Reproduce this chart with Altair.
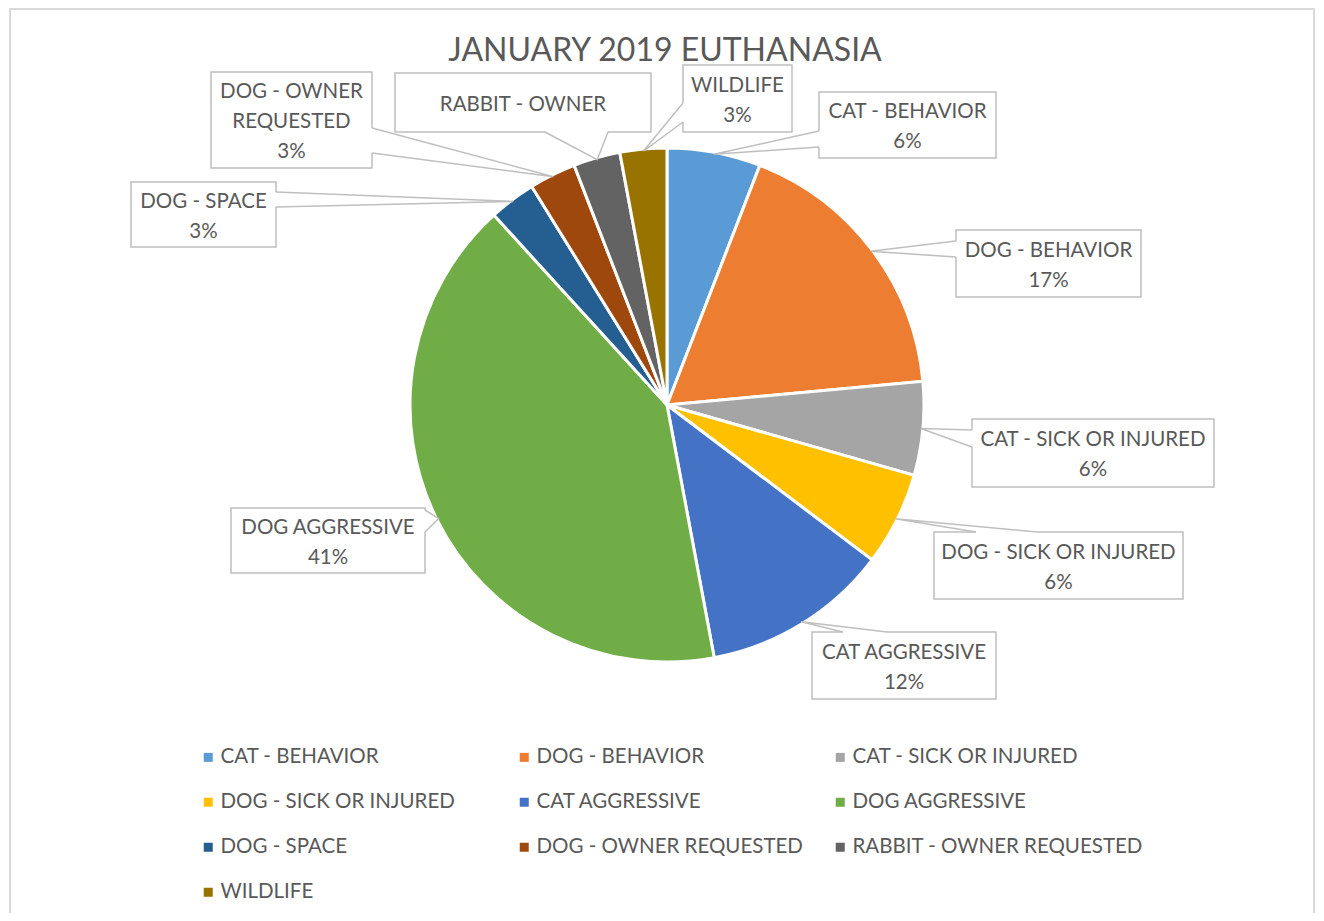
import math
import altair as alt
import pandas as pd

# ---------------- data ----------------
categories = [
    "CAT - BEHAVIOR", "DOG - BEHAVIOR", "CAT - SICK OR INJURED",
    "DOG - SICK OR INJURED", "CAT AGGRESSIVE", "DOG AGGRESSIVE",
    "DOG - SPACE", "DOG - OWNER REQUESTED", "RABBIT - OWNER REQUESTED", "WILDLIFE",
]
counts = [2, 6, 2, 2, 4, 14, 1, 1, 1, 1]
pct_labels = ["6%", "17%", "6%", "6%", "12%", "41%", "3%", "3%", "3%", "3%"]
colors = ["#5B9BD5", "#ED7D31", "#A5A5A5", "#FFC000", "#4472C4",
          "#70AD47", "#255E91", "#9E480E", "#636363", "#997300"]
# callout text as wrapped (and clipped) by the original
callout_lines = [
    ["CAT - BEHAVIOR", "6%"],
    ["DOG - BEHAVIOR", "17%"],
    ["CAT - SICK OR INJURED", "6%"],
    ["DOG - SICK OR INJURED", "6%"],
    ["CAT AGGRESSIVE", "12%"],
    ["DOG AGGRESSIVE", "41%"],
    ["DOG - SPACE", "3%"],
    ["DOG - OWNER", "REQUESTED", "3%"],
    ["RABBIT - OWNER"],
    ["WILDLIFE", "3%"],
]
title_text = "JANUARY 2019 EUTHANASIA"

# ---------------- layout (page pixels) ----------------
W, H = 1308, 905
OFF = 8
CX, CY, R = 667 - OFF, 405 - OFF, 257
TIP_R = 255
LH = 30
# callout boxes: left, top, right, bottom
box_l = [819, 956, 972, 934, 812, 231, 131, 211, 395, 683]
box_t = [92, 230, 419, 532, 632, 508, 182, 72, 73, 65]
box_r = [996, 1141, 1214, 1183, 996, 425, 276, 372, 651, 792]
box_b = [158, 297, 487, 599, 699, 573, 247, 168, 132, 132]
# wedge base points on the box edge
base1 = [(819, 131), (956, 241), (972, 430), (976, 532), (843, 632),
         (425, 510), (276, 192), (372, 128), (545, 132), (683, 103)]
base2 = [(819, 147), (956, 257), (972, 447), (1037, 532), (887, 632),
         (425, 532), (276, 207), (372, 153), (608, 132), (683, 122)]

FONT = "Lato"
TXT = "#595959"
LINE = "#BFBFBF"

pie_df = pd.DataFrame({"cat": categories, "count": counts,
                       "idx": list(range(len(categories)))})

total = sum(counts)
tips = []
cum = 0
for c in counts:
    mid = (cum + c / 2) / total * 2 * math.pi
    tips.append((CX + TIP_R * math.sin(mid), CY - TIP_R * math.cos(mid)))
    cum += c

box_rows, cover_rows, wedge_rows, text_rows = [], [], [], []
for i in range(len(categories)):
    box_rows.append({"x1": box_l[i] - OFF, "x2": box_r[i] - OFF,
                     "y1": box_t[i] - OFF, "y2": box_b[i] - OFF})
    cover_rows.append({"x1": base1[i][0] - OFF, "y1": base1[i][1] - OFF,
                       "x2": base2[i][0] - OFF, "y2": base2[i][1] - OFF})
    pts = [base1[i], (tips[i][0] + OFF, tips[i][1] + OFF), base2[i]]
    for k, (px, py) in enumerate(pts):
        wedge_rows.append({"id": i, "ord": k, "x": px - OFF, "y": py - OFF})
    n = len(callout_lines[i])
    text_rows.append({"x": (box_l[i] + box_r[i]) / 2 - OFF,
                      "y": (box_t[i] + box_b[i]) / 2 + 2 - OFF - (n - 1) * LH / 2,
                      "t": "\n".join(callout_lines[i])})

xs = alt.Scale(domain=[0, W], nice=False, zero=False)
ys = alt.Scale(domain=[0, H], nice=False, zero=False, reverse=True)


def X(f):
    return alt.X(f, scale=xs, axis=None)


def Y(f):
    return alt.Y(f, scale=ys, axis=None)


border = alt.Chart(pd.DataFrame([{"x1": 2, "x2": 1306, "y1": 1, "y2": H + 20}])).mark_rect(
    fill="white", fillOpacity=0, stroke="#D9D9D9", strokeWidth=2
).encode(x=X("x1:Q"), x2="x2:Q", y=Y("y1:Q"), y2="y2:Q")

pie = alt.Chart(pie_df).mark_arc(outerRadius=R, stroke="white", strokeWidth=3).encode(
    theta=alt.Theta("count:Q", stack=True),
    order=alt.Order("idx:Q"),
    x=alt.value(CX),
    y=alt.value(CY),
    color=alt.Color(
        "cat:N",
        sort=categories,
        scale=alt.Scale(domain=categories, range=colors),
        legend=alt.Legend(
            title=None, orient="none", legendX=190, legendY=739,
            direction="horizontal", columns=3, gridAlign="all",
            columnPadding=2, rowPadding=24,
            symbolType="square", symbolSize=81, symbolStrokeWidth=0,
            labelFont=FONT, labelFontSize=20.5, labelColor=TXT,
            labelLimit=400, labelOffset=2, padding=0,
        ),
    ),
)

boxes = alt.Chart(pd.DataFrame(box_rows)).mark_rect(
    fill="white", stroke=LINE, strokeWidth=1.5
).encode(x=X("x1:Q"), x2="x2:Q", y=Y("y1:Q"), y2="y2:Q")

covers = alt.Chart(pd.DataFrame(cover_rows)).mark_rule(
    color="white", strokeWidth=3
).encode(x=X("x1:Q"), x2="x2:Q", y=Y("y1:Q"), y2="y2:Q")

wedges = alt.Chart(pd.DataFrame(wedge_rows)).mark_line(
    color=LINE, strokeWidth=1.5
).encode(x=X("x:Q"), y=Y("y:Q"), detail="id:N", order="ord:Q")

texts = alt.Chart(pd.DataFrame(text_rows)).mark_text(
    font=FONT, fontSize=20.5, color=TXT, align="center", baseline="middle",
    lineBreak="\n", lineHeight=LH,
).encode(x=X("x:Q"), y=Y("y:Q"), text="t:N")

title = alt.Chart(pd.DataFrame([{"x": 665 - OFF, "y": 51 - OFF, "t": title_text}])).mark_text(
    font=FONT, fontSize=32, color=TXT, align="center", baseline="middle",
).encode(x=X("x:Q"), y=Y("y:Q"), text="t:N")

chart = alt.layer(border, pie, boxes, covers, wedges, texts, title).properties(
    width=W, height=H, padding=0, autosize=alt.AutoSizeParams(type="none"),
    background="white",
).configure_view(strokeWidth=0)

chart.save("out.html", embed_options={"renderer": "svg", "actions": False})
